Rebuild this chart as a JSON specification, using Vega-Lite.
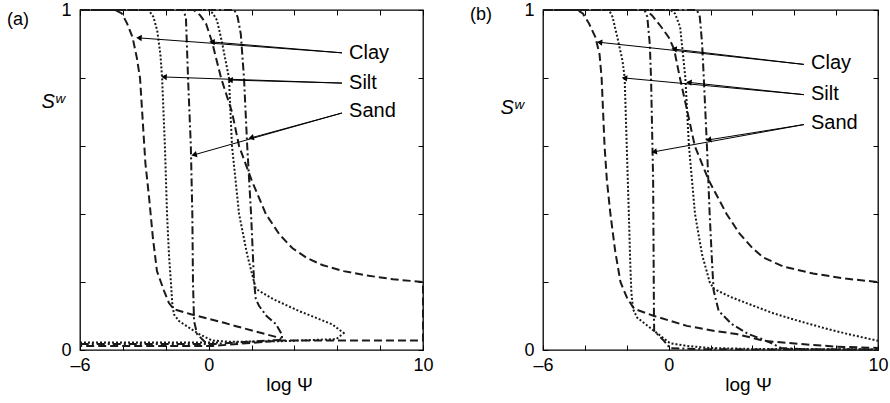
{
"$schema":"https://vega.github.io/schema/vega-lite/v6.json",
"background":"white",
"padding":{"left":6,"top":0,"right":5,"bottom":5},
"spacing":35,
"datasets":{
"curves":[
{"p":"a","c":"a1","s":"Clay","o":1,"x":-6,"y":1},{"p":"a","c":"a1","s":"Clay","o":2,"x":-0.7,"y":1},{"p":"a","c":"a1","s":"Clay","o":3,"x":-0.4,"y":0.985},{"p":"a","c":"a1","s":"Clay","o":4,"x":-0.12,"y":0.96},{"p":"a","c":"a1","s":"Clay","o":5,"x":0.16,"y":0.906},{"p":"a","c":"a1","s":"Clay","o":6,"x":0.58,"y":0.8},{"p":"a","c":"a1","s":"Clay","o":7,"x":1.09,"y":0.7},{"p":"a","c":"a1","s":"Clay","o":8,"x":1.42,"y":0.6},{"p":"a","c":"a1","s":"Clay","o":9,"x":2.02,"y":0.497},{"p":"a","c":"a1","s":"Clay","o":10,"x":2.67,"y":0.4},{"p":"a","c":"a1","s":"Clay","o":11,"x":3.3,"y":0.34},{"p":"a","c":"a1","s":"Clay","o":12,"x":3.9,"y":0.3},{"p":"a","c":"a1","s":"Clay","o":13,"x":4.6,"y":0.27},{"p":"a","c":"a1","s":"Clay","o":14,"x":5.3,"y":0.25},{"p":"a","c":"a1","s":"Clay","o":15,"x":6.3,"y":0.232},{"p":"a","c":"a1","s":"Clay","o":16,"x":7.3,"y":0.22},{"p":"a","c":"a1","s":"Clay","o":17,"x":8.6,"y":0.208},{"p":"a","c":"a1","s":"Clay","o":18,"x":10,"y":0.2},{"p":"a","c":"a1","s":"Clay","o":19,"x":10,"y":0.028},{"p":"a","c":"a1","s":"Clay","o":20,"x":3.4,"y":0.028},{"p":"a","c":"a1","s":"Clay","o":21,"x":0.2,"y":0.012},{"p":"a","c":"a1","s":"Clay","o":22,"x":-6,"y":0.012},
{"p":"a","c":"a2","s":"Clay","o":1,"x":-6,"y":1},{"p":"a","c":"a2","s":"Clay","o":2,"x":-4.35,"y":1},{"p":"a","c":"a2","s":"Clay","o":3,"x":-4.05,"y":0.99},{"p":"a","c":"a2","s":"Clay","o":4,"x":-3.8,"y":0.96},{"p":"a","c":"a2","s":"Clay","o":5,"x":-3.55,"y":0.92},{"p":"a","c":"a2","s":"Clay","o":6,"x":-3.35,"y":0.86},{"p":"a","c":"a2","s":"Clay","o":7,"x":-3.2,"y":0.8},{"p":"a","c":"a2","s":"Clay","o":8,"x":-3.05,"y":0.65},{"p":"a","c":"a2","s":"Clay","o":9,"x":-2.95,"y":0.55},{"p":"a","c":"a2","s":"Clay","o":10,"x":-2.78,"y":0.45},{"p":"a","c":"a2","s":"Clay","o":11,"x":-2.6,"y":0.33},{"p":"a","c":"a2","s":"Clay","o":12,"x":-2.41,"y":0.232},{"p":"a","c":"a2","s":"Clay","o":13,"x":-2.08,"y":0.174},{"p":"a","c":"a2","s":"Clay","o":14,"x":-1.85,"y":0.138},{"p":"a","c":"a2","s":"Clay","o":15,"x":-1.62,"y":0.12},{"p":"a","c":"a2","s":"Clay","o":16,"x":-0.82,"y":0.105},{"p":"a","c":"a2","s":"Clay","o":17,"x":0.72,"y":0.08},{"p":"a","c":"a2","s":"Clay","o":18,"x":1.28,"y":0.07},{"p":"a","c":"a2","s":"Clay","o":19,"x":3.05,"y":0.04},{"p":"a","c":"a2","s":"Clay","o":20,"x":3.4,"y":0.033},
{"p":"a","c":"a3","s":"Silt","o":1,"x":-6,"y":1},{"p":"a","c":"a3","s":"Silt","o":2,"x":0,"y":1},{"p":"a","c":"a3","s":"Silt","o":3,"x":0.2,"y":0.99},{"p":"a","c":"a3","s":"Silt","o":4,"x":0.39,"y":0.97},{"p":"a","c":"a3","s":"Silt","o":5,"x":0.62,"y":0.906},{"p":"a","c":"a3","s":"Silt","o":6,"x":0.95,"y":0.8},{"p":"a","c":"a3","s":"Silt","o":7,"x":1.09,"y":0.6},{"p":"a","c":"a3","s":"Silt","o":8,"x":1.42,"y":0.4},{"p":"a","c":"a3","s":"Silt","o":9,"x":1.8,"y":0.28},{"p":"a","c":"a3","s":"Silt","o":10,"x":2.2,"y":0.18},{"p":"a","c":"a3","s":"Silt","o":11,"x":3,"y":0.15},{"p":"a","c":"a3","s":"Silt","o":12,"x":4.2,"y":0.115},{"p":"a","c":"a3","s":"Silt","o":13,"x":5.75,"y":0.076},{"p":"a","c":"a3","s":"Silt","o":14,"x":6.3,"y":0.05},{"p":"a","c":"a3","s":"Silt","o":15,"x":5.95,"y":0.032},{"p":"a","c":"a3","s":"Silt","o":16,"x":3.4,"y":0.026},{"p":"a","c":"a3","s":"Silt","o":17,"x":1,"y":0.024},{"p":"a","c":"a3","s":"Silt","o":18,"x":0.16,"y":0.028},{"p":"a","c":"a3","s":"Silt","o":19,"x":-0.45,"y":0.047},{"p":"a","c":"a3","s":"Silt","o":20,"x":-0.9,"y":0.065},{"p":"a","c":"a3","s":"Silt","o":21,"x":-1.38,"y":0.085},{"p":"a","c":"a3","s":"Silt","o":22,"x":-1.62,"y":0.105},{"p":"a","c":"a3","s":"Silt","o":23,"x":-1.7,"y":0.14},{"p":"a","c":"a3","s":"Silt","o":24,"x":-1.76,"y":0.2},{"p":"a","c":"a3","s":"Silt","o":25,"x":-1.85,"y":0.28},{"p":"a","c":"a3","s":"Silt","o":26,"x":-1.94,"y":0.4},{"p":"a","c":"a3","s":"Silt","o":27,"x":-2.04,"y":0.6},{"p":"a","c":"a3","s":"Silt","o":28,"x":-2.17,"y":0.8},{"p":"a","c":"a3","s":"Silt","o":29,"x":-2.25,"y":0.87},{"p":"a","c":"a3","s":"Silt","o":30,"x":-2.4,"y":0.94},{"p":"a","c":"a3","s":"Silt","o":31,"x":-2.58,"y":0.98},{"p":"a","c":"a3","s":"Silt","o":32,"x":-2.8,"y":1},{"p":"a","c":"a3","s":"Silt","o":33,"x":-6,"y":1},
{"p":"a","c":"a5","s":"Silt","o":1,"x":-6,"y":0.022},{"p":"a","c":"a5","s":"Silt","o":2,"x":0.5,"y":0.022},
{"p":"a","c":"a6","s":"Sand","o":1,"x":-6,"y":1},{"p":"a","c":"a6","s":"Sand","o":2,"x":1.2,"y":1},{"p":"a","c":"a6","s":"Sand","o":3,"x":1.35,"y":0.98},{"p":"a","c":"a6","s":"Sand","o":4,"x":1.5,"y":0.93},{"p":"a","c":"a6","s":"Sand","o":5,"x":1.65,"y":0.8},{"p":"a","c":"a6","s":"Sand","o":6,"x":1.8,"y":0.6},{"p":"a","c":"a6","s":"Sand","o":7,"x":1.98,"y":0.4},{"p":"a","c":"a6","s":"Sand","o":8,"x":2.12,"y":0.2},{"p":"a","c":"a6","s":"Sand","o":9,"x":2.2,"y":0.15},{"p":"a","c":"a6","s":"Sand","o":10,"x":2.35,"y":0.13},{"p":"a","c":"a6","s":"Sand","o":11,"x":2.7,"y":0.1},{"p":"a","c":"a6","s":"Sand","o":12,"x":3.14,"y":0.076},{"p":"a","c":"a6","s":"Sand","o":13,"x":3.42,"y":0.045},{"p":"a","c":"a6","s":"Sand","o":14,"x":3.42,"y":0.03},{"p":"a","c":"a6","s":"Sand","o":15,"x":0.3,"y":0.018},{"p":"a","c":"a6","s":"Sand","o":16,"x":-6,"y":0.018},
{"p":"a","c":"a7","s":"Sand","o":1,"x":-6,"y":1},{"p":"a","c":"a7","s":"Sand","o":2,"x":-1.2,"y":1},{"p":"a","c":"a7","s":"Sand","o":3,"x":-1.06,"y":0.98},{"p":"a","c":"a7","s":"Sand","o":4,"x":-0.96,"y":0.8},{"p":"a","c":"a7","s":"Sand","o":5,"x":-0.83,"y":0.6},{"p":"a","c":"a7","s":"Sand","o":6,"x":-0.76,"y":0.4},{"p":"a","c":"a7","s":"Sand","o":7,"x":-0.73,"y":0.2},{"p":"a","c":"a7","s":"Sand","o":8,"x":-0.68,"y":0.085},{"p":"a","c":"a7","s":"Sand","o":9,"x":-0.54,"y":0.047},{"p":"a","c":"a7","s":"Sand","o":10,"x":-0.12,"y":0.02},{"p":"a","c":"a7","s":"Sand","o":11,"x":0.3,"y":0.018},
{"p":"b","c":"b1","s":"Clay","o":1,"x":-6,"y":1},{"p":"b","c":"b1","s":"Clay","o":2,"x":-1.1,"y":1},{"p":"b","c":"b1","s":"Clay","o":3,"x":-0.8,"y":0.985},{"p":"b","c":"b1","s":"Clay","o":4,"x":-0.35,"y":0.95},{"p":"b","c":"b1","s":"Clay","o":5,"x":0,"y":0.92},{"p":"b","c":"b1","s":"Clay","o":6,"x":0.26,"y":0.885},{"p":"b","c":"b1","s":"Clay","o":7,"x":0.54,"y":0.8},{"p":"b","c":"b1","s":"Clay","o":8,"x":0.9,"y":0.7},{"p":"b","c":"b1","s":"Clay","o":9,"x":1.25,"y":0.6},{"p":"b","c":"b1","s":"Clay","o":10,"x":1.91,"y":0.5},{"p":"b","c":"b1","s":"Clay","o":11,"x":2.77,"y":0.4},{"p":"b","c":"b1","s":"Clay","o":12,"x":3.38,"y":0.343},{"p":"b","c":"b1","s":"Clay","o":13,"x":4,"y":0.3},{"p":"b","c":"b1","s":"Clay","o":14,"x":4.52,"y":0.272},{"p":"b","c":"b1","s":"Clay","o":15,"x":5.5,"y":0.245},{"p":"b","c":"b1","s":"Clay","o":16,"x":6.9,"y":0.225},{"p":"b","c":"b1","s":"Clay","o":17,"x":8.45,"y":0.21},{"p":"b","c":"b1","s":"Clay","o":18,"x":10,"y":0.2},
{"p":"b","c":"b2","s":"Clay","o":1,"x":-6,"y":1},{"p":"b","c":"b2","s":"Clay","o":2,"x":-4.35,"y":1},{"p":"b","c":"b2","s":"Clay","o":3,"x":-4.1,"y":0.99},{"p":"b","c":"b2","s":"Clay","o":4,"x":-3.8,"y":0.96},{"p":"b","c":"b2","s":"Clay","o":5,"x":-3.5,"y":0.92},{"p":"b","c":"b2","s":"Clay","o":6,"x":-3.3,"y":0.87},{"p":"b","c":"b2","s":"Clay","o":7,"x":-3.2,"y":0.8},{"p":"b","c":"b2","s":"Clay","o":8,"x":-3.06,"y":0.6},{"p":"b","c":"b2","s":"Clay","o":9,"x":-2.95,"y":0.5},{"p":"b","c":"b2","s":"Clay","o":10,"x":-2.78,"y":0.4},{"p":"b","c":"b2","s":"Clay","o":11,"x":-2.55,"y":0.29},{"p":"b","c":"b2","s":"Clay","o":12,"x":-2.3,"y":0.2},{"p":"b","c":"b2","s":"Clay","o":13,"x":-1.97,"y":0.151},{"p":"b","c":"b2","s":"Clay","o":14,"x":-1.64,"y":0.121},{"p":"b","c":"b2","s":"Clay","o":15,"x":-0.69,"y":0.1},{"p":"b","c":"b2","s":"Clay","o":16,"x":0.87,"y":0.071},{"p":"b","c":"b2","s":"Clay","o":17,"x":2.2,"y":0.056},{"p":"b","c":"b2","s":"Clay","o":18,"x":3.24,"y":0.047},{"p":"b","c":"b2","s":"Clay","o":19,"x":4.57,"y":0.027},{"p":"b","c":"b2","s":"Clay","o":20,"x":6.18,"y":0.018},{"p":"b","c":"b2","s":"Clay","o":21,"x":8,"y":0.01},{"p":"b","c":"b2","s":"Clay","o":22,"x":10,"y":0.006},
{"p":"b","c":"b3","s":"Silt","o":1,"x":-6,"y":1},{"p":"b","c":"b3","s":"Silt","o":2,"x":0.1,"y":1},{"p":"b","c":"b3","s":"Silt","o":3,"x":0.3,"y":0.99},{"p":"b","c":"b3","s":"Silt","o":4,"x":0.55,"y":0.95},{"p":"b","c":"b3","s":"Silt","o":5,"x":0.8,"y":0.8},{"p":"b","c":"b3","s":"Silt","o":6,"x":0.97,"y":0.6},{"p":"b","c":"b3","s":"Silt","o":7,"x":1.26,"y":0.4},{"p":"b","c":"b3","s":"Silt","o":8,"x":1.6,"y":0.28},{"p":"b","c":"b3","s":"Silt","o":9,"x":1.96,"y":0.2},{"p":"b","c":"b3","s":"Silt","o":10,"x":2.15,"y":0.18},{"p":"b","c":"b3","s":"Silt","o":11,"x":3,"y":0.155},{"p":"b","c":"b3","s":"Silt","o":12,"x":3.8,"y":0.136},{"p":"b","c":"b3","s":"Silt","o":13,"x":5,"y":0.108},{"p":"b","c":"b3","s":"Silt","o":14,"x":6.18,"y":0.086},{"p":"b","c":"b3","s":"Silt","o":15,"x":7.4,"y":0.065},{"p":"b","c":"b3","s":"Silt","o":16,"x":8.55,"y":0.047},{"p":"b","c":"b3","s":"Silt","o":17,"x":10,"y":0.027},
{"p":"b","c":"b4","s":"Silt","o":1,"x":-6,"y":1},{"p":"b","c":"b4","s":"Silt","o":2,"x":-2.85,"y":1},{"p":"b","c":"b4","s":"Silt","o":3,"x":-2.68,"y":0.98},{"p":"b","c":"b4","s":"Silt","o":4,"x":-2.45,"y":0.92},{"p":"b","c":"b4","s":"Silt","o":5,"x":-2.2,"y":0.85},{"p":"b","c":"b4","s":"Silt","o":6,"x":-2.1,"y":0.8},{"p":"b","c":"b4","s":"Silt","o":7,"x":-2,"y":0.6},{"p":"b","c":"b4","s":"Silt","o":8,"x":-1.9,"y":0.4},{"p":"b","c":"b4","s":"Silt","o":9,"x":-1.83,"y":0.25},{"p":"b","c":"b4","s":"Silt","o":10,"x":-1.78,"y":0.17},{"p":"b","c":"b4","s":"Silt","o":11,"x":-1.7,"y":0.12},{"p":"b","c":"b4","s":"Silt","o":12,"x":-1.5,"y":0.095},{"p":"b","c":"b4","s":"Silt","o":13,"x":-0.69,"y":0.056},{"p":"b","c":"b4","s":"Silt","o":14,"x":0.07,"y":0.02},{"p":"b","c":"b4","s":"Silt","o":15,"x":0.87,"y":0.012},{"p":"b","c":"b4","s":"Silt","o":16,"x":1.96,"y":0.006},{"p":"b","c":"b4","s":"Silt","o":17,"x":4,"y":0.003},{"p":"b","c":"b4","s":"Silt","o":18,"x":10,"y":0.002},
{"p":"b","c":"b5","s":"Sand","o":1,"x":-6,"y":1},{"p":"b","c":"b5","s":"Sand","o":2,"x":1.35,"y":1},{"p":"b","c":"b5","s":"Sand","o":3,"x":1.49,"y":0.98},{"p":"b","c":"b5","s":"Sand","o":4,"x":1.6,"y":0.9},{"p":"b","c":"b5","s":"Sand","o":5,"x":1.68,"y":0.8},{"p":"b","c":"b5","s":"Sand","o":6,"x":1.83,"y":0.6},{"p":"b","c":"b5","s":"Sand","o":7,"x":1.96,"y":0.4},{"p":"b","c":"b5","s":"Sand","o":8,"x":2.08,"y":0.25},{"p":"b","c":"b5","s":"Sand","o":9,"x":2.15,"y":0.175},{"p":"b","c":"b5","s":"Sand","o":10,"x":2.39,"y":0.115},{"p":"b","c":"b5","s":"Sand","o":11,"x":3,"y":0.077},{"p":"b","c":"b5","s":"Sand","o":12,"x":3.8,"y":0.047},{"p":"b","c":"b5","s":"Sand","o":13,"x":4.43,"y":0.033},{"p":"b","c":"b5","s":"Sand","o":14,"x":4.9,"y":0.02},{"p":"b","c":"b5","s":"Sand","o":15,"x":5.37,"y":0.006},{"p":"b","c":"b5","s":"Sand","o":16,"x":6.5,"y":0.002},{"p":"b","c":"b5","s":"Sand","o":17,"x":10,"y":0.001},
{"p":"b","c":"b6","s":"Sand","o":1,"x":-6,"y":1},{"p":"b","c":"b6","s":"Sand","o":2,"x":-1.15,"y":1},{"p":"b","c":"b6","s":"Sand","o":3,"x":-1.02,"y":0.98},{"p":"b","c":"b6","s":"Sand","o":4,"x":-0.9,"y":0.9},{"p":"b","c":"b6","s":"Sand","o":5,"x":-0.84,"y":0.8},{"p":"b","c":"b6","s":"Sand","o":6,"x":-0.74,"y":0.5},{"p":"b","c":"b6","s":"Sand","o":7,"x":-0.71,"y":0.2},{"p":"b","c":"b6","s":"Sand","o":8,"x":-0.7,"y":0.1},{"p":"b","c":"b6","s":"Sand","o":9,"x":-0.69,"y":0.056},{"p":"b","c":"b6","s":"Sand","o":10,"x":-0.22,"y":0.027},{"p":"b","c":"b6","s":"Sand","o":11,"x":0.07,"y":0.005},{"p":"b","c":"b6","s":"Sand","o":12,"x":2,"y":0.002},{"p":"b","c":"b6","s":"Sand","o":13,"x":10,"y":0.001}
],
"arrows":[
{"p":"a","s":"Clay","x":6.22,"y":0.874,"x2":-3.25,"y2":0.918},{"p":"a","s":"Clay","x":6.22,"y":0.874,"x2":0.16,"y2":0.906},
{"p":"a","s":"Silt","x":6.22,"y":0.785,"x2":-2.08,"y2":0.803},{"p":"a","s":"Silt","x":6.22,"y":0.785,"x2":1.0,"y2":0.794},
{"p":"a","s":"Sand","x":6.22,"y":0.697,"x2":-0.68,"y2":0.574},{"p":"a","s":"Sand","x":6.22,"y":0.697,"x2":1.98,"y2":0.624},
{"p":"b","s":"Clay","x":6.46,"y":0.84,"x2":-3.3,"y2":0.905},{"p":"b","s":"Clay","x":6.46,"y":0.84,"x2":0.26,"y2":0.885},
{"p":"b","s":"Silt","x":6.46,"y":0.751,"x2":-2.11,"y2":0.8},{"p":"b","s":"Silt","x":6.46,"y":0.751,"x2":0.97,"y2":0.787},
{"p":"b","s":"Sand","x":6.46,"y":0.663,"x2":-0.69,"y2":0.583},{"p":"b","s":"Sand","x":6.46,"y":0.663,"x2":1.91,"y2":0.618}
],
"labels":[
{"p":"a","s":"Clay","x":6.55,"y":0.873},{"p":"a","s":"Silt","x":6.55,"y":0.785},{"p":"a","s":"Sand","x":6.55,"y":0.703},
{"p":"b","s":"Clay","x":6.8,"y":0.843},{"p":"b","s":"Silt","x":6.8,"y":0.754},{"p":"b","s":"Sand","x":6.8,"y":0.668}
]
},
"hconcat":[
{
"width":343,"height":340,
"title":{"text":"(a)","anchor":"start","frame":"group","dx":-73,"offset":-37,"baseline":"middle","fontSize":18,"fontWeight":"normal","font":"Liberation Sans","color":"black"},
"layer":[
{"data":{"name":"curves"},"transform":[{"filter":"datum.p==='a'"}],
"mark":{"type":"line","strokeWidth":2,"color":"#1a1a1a"},
"encoding":{
"x":{"field":"x","type":"quantitative","scale":{"domain":[-6,10],"nice":false,"zero":false},"axis":{"orient":"bottom","values":[-6,-4,-2,0,2,4,6,8,10],"labelExpr":"datum.value===-6?'–6':(datum.value===0||datum.value===10)?datum.label:''","labelFlush":false,"labelOverlap":false,"labelPadding":11,"title":"log Ψ","titleX":209,"titleY":34,"titleAlign":"center","titleBaseline":"middle"}},
"y":{"field":"y","type":"quantitative","scale":{"domain":[0,1],"nice":false,"zero":false},"axis":{"orient":"left","values":[0,0.2,0.4,0.6,0.8,1],"labelExpr":"datum.value===0?'0':datum.value===1?'1':''","labelOverlap":false,"labelFlush":false,"labelPadding":14,"title":"Sʷ","titleAngle":0,"titleX":-39,"titleY":91,"titleAlign":"left","titleBaseline":"middle","titleFontStyle":"italic","titleFontSize":20}},
"detail":{"field":"c","type":"nominal"},
"order":{"field":"o","type":"quantitative"},
"strokeDash":{"field":"s","type":"nominal","scale":{"domain":["Clay","Silt","Sand"],"range":[[8,4],[2,2],[8,3,2,3]]},"legend":null}
}},
{"data":{"name":"arrows"},"transform":[{"filter":"datum.p==='a'"}],
"mark":{"type":"rule","strokeWidth":1,"color":"black"},
"encoding":{
"x":{"field":"x","type":"quantitative","scale":{"domain":[-6,10],"nice":false,"zero":false},"axis":{"orient":"top","values":[-6,-4,-2,0,2,4,6,8,10],"labels":false,"title":null}},
"y":{"field":"y","type":"quantitative","scale":{"domain":[0,1],"nice":false,"zero":false},"axis":{"orient":"right","values":[0,0.2,0.4,0.6,0.8,1],"labels":false,"title":null}},
"x2":{"field":"x2"},"y2":{"field":"y2"}
}},
{"data":{"name":"arrows"},"transform":[{"filter":"datum.p==='a'"}],
"mark":{"type":"point","shape":"triangle-left","filled":true,"size":40,"color":"black","opacity":1},
"encoding":{
"x":{"field":"x2","type":"quantitative","scale":{"domain":[-6,10],"nice":false,"zero":false},"axis":null},
"y":{"field":"y2","type":"quantitative","scale":{"domain":[0,1],"nice":false,"zero":false},"axis":null},
"angle":{"condition":{"test":"datum.s==='Sand'","value":-14},"value":3}
}},
{"data":{"name":"labels"},"transform":[{"filter":"datum.p==='a'"}],
"mark":{"type":"text","align":"left","baseline":"middle","fontSize":20,"font":"Liberation Sans","color":"black"},
"encoding":{
"x":{"field":"x","type":"quantitative","scale":{"domain":[-6,10],"nice":false,"zero":false},"axis":null},
"y":{"field":"y","type":"quantitative","scale":{"domain":[0,1],"nice":false,"zero":false},"axis":null},
"text":{"field":"s"}
}}
],
"resolve":{"axis":{"x":"independent","y":"independent"}}
},
{
"width":335,"height":340,
"title":{"text":"(b)","anchor":"start","frame":"group","dx":-73,"offset":-32,"baseline":"middle","fontSize":18,"fontWeight":"normal","font":"Liberation Sans","color":"black"},
"layer":[
{"data":{"name":"curves"},"transform":[{"filter":"datum.p==='b'"}],
"mark":{"type":"line","strokeWidth":2,"color":"#1a1a1a"},
"encoding":{
"x":{"field":"x","type":"quantitative","scale":{"domain":[-6,10],"nice":false,"zero":false},"axis":{"orient":"bottom","values":[-6,-4,-2,0,2,4,6,8,10],"labelExpr":"datum.value===-6?'–6':(datum.value===0||datum.value===10)?datum.label:''","labelFlush":false,"labelOverlap":false,"labelPadding":11,"title":"log Ψ","titleX":205,"titleY":34,"titleAlign":"center","titleBaseline":"middle"}},
"y":{"field":"y","type":"quantitative","scale":{"domain":[0,1],"nice":false,"zero":false},"axis":{"orient":"left","values":[0,0.2,0.4,0.6,0.8,1],"labelExpr":"datum.value===0?'0':datum.value===1?'1':''","labelOverlap":false,"labelFlush":false,"labelPadding":14,"title":"Sʷ","titleAngle":0,"titleX":-43,"titleY":97,"titleAlign":"left","titleBaseline":"middle","titleFontStyle":"italic","titleFontSize":20}},
"detail":{"field":"c","type":"nominal"},
"order":{"field":"o","type":"quantitative"},
"strokeDash":{"field":"s","type":"nominal","scale":{"domain":["Clay","Silt","Sand"],"range":[[8,4],[2,2],[8,3,2,3]]},"legend":null}
}},
{"data":{"name":"arrows"},"transform":[{"filter":"datum.p==='b'"}],
"mark":{"type":"rule","strokeWidth":1,"color":"black"},
"encoding":{
"x":{"field":"x","type":"quantitative","scale":{"domain":[-6,10],"nice":false,"zero":false},"axis":{"orient":"top","values":[-6,-4,-2,0,2,4,6,8,10],"labels":false,"title":null}},
"y":{"field":"y","type":"quantitative","scale":{"domain":[0,1],"nice":false,"zero":false},"axis":{"orient":"right","values":[0,0.2,0.4,0.6,0.8,1],"labels":false,"title":null}},
"x2":{"field":"x2"},"y2":{"field":"y2"}
}},
{"data":{"name":"arrows"},"transform":[{"filter":"datum.p==='b'"}],
"mark":{"type":"point","shape":"triangle-left","filled":true,"size":40,"color":"black","opacity":1},
"encoding":{
"x":{"field":"x2","type":"quantitative","scale":{"domain":[-6,10],"nice":false,"zero":false},"axis":null},
"y":{"field":"y2","type":"quantitative","scale":{"domain":[0,1],"nice":false,"zero":false},"axis":null},
"angle":{"condition":{"test":"datum.s==='Sand'","value":-10},"value":6}
}},
{"data":{"name":"labels"},"transform":[{"filter":"datum.p==='b'"}],
"mark":{"type":"text","align":"left","baseline":"middle","fontSize":20,"font":"Liberation Sans","color":"black"},
"encoding":{
"x":{"field":"x","type":"quantitative","scale":{"domain":[-6,10],"nice":false,"zero":false},"axis":null},
"y":{"field":"y","type":"quantitative","scale":{"domain":[0,1],"nice":false,"zero":false},"axis":null},
"text":{"field":"s"}
}}
],
"resolve":{"axis":{"x":"independent","y":"independent"}}
}
],
"config":{
"font":"Liberation Sans",
"view":{"stroke":"black","strokeWidth":1.3},
"axis":{"domain":false,"grid":false,"ticks":true,"tickSize":-5,"tickColor":"black","tickWidth":1,"labelFont":"Liberation Sans","labelFontSize":18,"labelColor":"black","titleFont":"Liberation Sans","titleFontSize":19,"titleFontWeight":"normal","titleColor":"black"}
}
}
